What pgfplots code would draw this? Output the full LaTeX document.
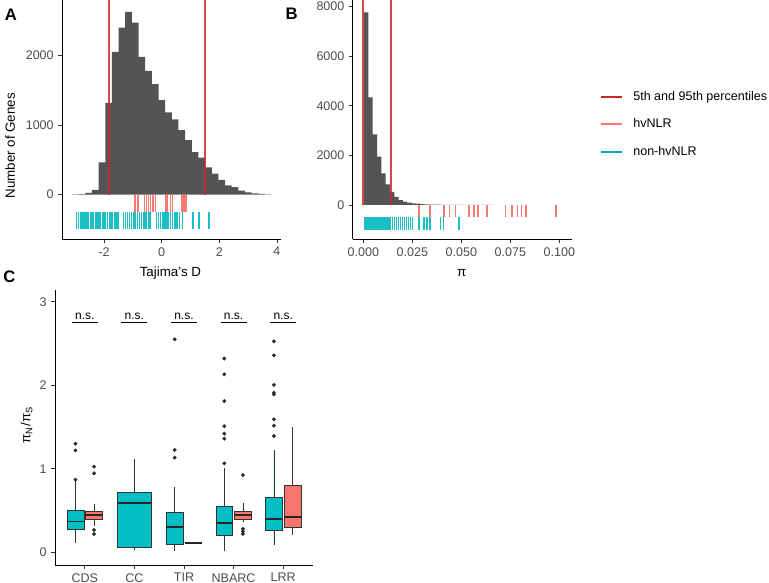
\documentclass[border=0pt]{standalone}
\usepackage{fontspec}
\setmainfont{Liberation Sans}
\usepackage{pgfplots}
\pgfplotsset{compat=1.18}
\usepgfplotslibrary{statistics}
\definecolor{barfill}{HTML}{545454}
\definecolor{pctcol}{RGB}{205,40,40}
\definecolor{hvcol}{HTML}{F8766D}
\definecolor{nonhvcol}{HTML}{00BFC4}
\definecolor{hvrug}{HTML}{F47A72}
\definecolor{nonhvrug}{HTML}{1CBEC6}
\definecolor{ticklab}{HTML}{4D4D4D}
\definecolor{boxline}{HTML}{333333}
\pgfplotsset{
 ggpanel/.style={
  scale only axis,
  axis x line*=bottom, axis y line*=left,
  axis line style={line width=0.7pt, black},
  tick align=outside,
  major tick length=2.7pt,
  tick style={line width=0.6pt, black!80},
  tick label style={font=\fontsize{9.4}{11}\selectfont, color=ticklab},
  label style={font=\fontsize{10}{12}\selectfont},
  /pgf/number format/assume math mode=true,
  /pgf/number format/1000 sep={},
  scaled ticks=false,
 },
 rugA/.style={only marks, mark=|, mark size=6.5pt},
 rugB/.style={only marks, mark=|, mark size=4.65pt},
 pctline/.style={draw=pctcol, line width=1.5pt, opacity=0.85},
 tealbox/.style={fill=nonhvcol, draw=boxline, line width=0.5pt, mark=*, mark size=1.2pt, mark options={fill=black!85, draw=none}},
 redbox/.style={fill=hvcol, draw=boxline, line width=0.5pt, mark=*, mark size=1.2pt, mark options={fill=black!85, draw=none}},
}
\begin{document}
\begin{tikzpicture}
\path[use as bounding box] (0,0) rectangle (576.75pt,437.25pt);

% ---------------- Panel A ----------------
\begin{axis}[ggpanel, at={(46.5pt,258pt)}, anchor=south west,
 width=164.25pt, height=179.25pt,
 xmin=-3.462, xmax=4.142, ymin=-636, ymax=2793,
 xtick={-2,0,2,4}, ytick={0,1000,2000},
 xlabel={Tajima's D}, ylabel={Number of Genes},
 xlabel style={at={(axis description cs:0.495,-0.158)}, anchor=base},
 ylabel style={at={(axis description cs:-0.215,0.39)}, anchor=base},
]
\addplot[ybar interval, fill=barfill, draw=none] coordinates {
(-3.115,3) (-2.884,8) (-2.653,25) (-2.422,70) (-2.191,464) (-1.960,1318)
(-1.729,2049) (-1.498,2398) (-1.267,2622) (-1.035,2470) (-0.804,1977)
(-0.573,1777) (-0.342,1586) (-0.111,1357) (0.120,1180) (0.351,1080)
(0.582,927) (0.813,784) (1.044,612) (1.275,530) (1.507,393) (1.738,301)
(1.969,211) (2.200,135) (2.431,110) (2.662,57) (2.893,34) (3.124,20)
(3.355,10) (3.586,3) (3.817,3)};
\addplot[pctline] coordinates {(-1.82,0) (-1.82,3000)};
\addplot[pctline] coordinates {(1.52,0) (1.52,3000)};
\addplot[rugA, mark options={draw=hvrug, line width=1.1pt}] coordinates {
(-0.92,-125) (-0.83,-125) (-0.60,-125) (-0.52,-125) (-0.45,-125) (-0.38,-125)
(-0.30,-125) (-0.22,-125) (0.15,-125) (0.21,-125) (0.31,-125) (0.37,-125)
(0.71,-125) (0.78,-125) (0.85,-125)};
\addplot[rugA, mark options={draw=nonhvrug, line width=1.1pt}] coordinates {
(-2.95,-375) (-2.88,-375) (-2.80,-375) (-2.74,-375) (-2.66,-375) (-2.60,-375)
(-2.55,-375) (-2.47,-375) (-2.42,-375) (-2.36,-375) (-2.30,-375) (-2.25,-375)
(-2.18,-375) (-2.12,-375) (-2.05,-375) (-2.00,-375) (-1.95,-375) (-1.88,-375)
(-1.82,-375) (-1.76,-375) (-1.70,-375) (-1.64,-375) (-1.58,-375) (-1.52,-375)
(-1.32,-375) (-1.26,-375) (-1.18,-375) (-1.12,-375) (-1.05,-375) (-0.98,-375)
(-0.92,-375) (-0.84,-375) (-0.78,-375) (-0.70,-375) (-0.64,-375) (-0.58,-375)
(-0.52,-375) (-0.46,-375) (-0.40,-375)
(-0.18,-375) (-0.12,-375) (-0.05,-375) (0.02,-375) (0.08,-375) (0.15,-375)
(0.22,-375) (0.30,-375) (0.38,-375) (0.46,-375) (0.53,-375) (0.62,-375)
(0.72,-375) (1.08,-375) (1.30,-375) (1.65,-375)};
\end{axis}

% ---------------- Panel B ----------------
\begin{axis}[ggpanel, at={(264.53pt,257.78pt)}, anchor=south west,
 width=164.25pt, height=179.48pt,
 xmin=-0.0054, xmax=0.1063, ymin=-1384, ymax=8269,
 xtick={0,0.025,0.05,0.075,0.1}, xticklabels={0.000,0.025,0.050,0.075,0.100},
 ytick={0,2000,4000,6000,8000},
 xlabel={π},
 xlabel style={at={(axis description cs:0.498,-0.156)}, anchor=base},
 legend style={at={(1.11,0.48)}, anchor=west, draw=none, fill=none,
   font=\fontsize{9.4}{11}\selectfont, row sep=8pt},
 legend cell align=left,
 legend image code/.code={\draw[line width=1.5pt] (0pt,0pt) -- (16pt,0pt); \path (22pt,0pt);},
]
\addplot[ybar interval, fill=barfill, draw=none, forget plot] coordinates {
(0.0004,7773) (0.0026,4344) (0.0048,2852) (0.0070,1950) (0.0092,1278)
(0.0114,835) (0.0136,524) (0.0158,323) (0.0180,200) (0.0202,135)
(0.0224,94) (0.0246,67) (0.0268,50) (0.0290,36) (0.0312,26) (0.0334,19)
(0.0356,14) (0.0378,10) (0.0400,7) (0.0422,5) (0.0444,4) (0.0466,3)
(0.0488,2) (0.0510,2) (0.0532,1) (0.0554,1) (0.0576,1) (0.0598,1)
(0.0620,1) (0.0642,1) (0.0664,1)};
\addplot[pctline, forget plot] coordinates {(0.0001,0) (0.0001,9000)};
\addplot[pctline, forget plot] coordinates {(0.0142,0) (0.0142,9000)};
\addplot[rugB, mark options={draw=hvrug, line width=1.1pt}, forget plot] coordinates {
(0.0284,-250) (0.0341,-250) (0.0412,-250) (0.0439,-250) (0.0470,-250)
(0.0538,-250) (0.0564,-250) (0.0584,-250) (0.0632,-250) (0.0724,-250)
(0.0759,-250) (0.0786,-250) (0.0808,-250) (0.0829,-250) (0.0982,-250)};
\addplot[rugB, mark options={draw=nonhvrug, line width=1.1pt}, forget plot] coordinates {
(0.0005,-750) (0.0010,-750) (0.0015,-750) (0.0020,-750) (0.0025,-750)
(0.0030,-750) (0.0035,-750) (0.0040,-750) (0.0045,-750) (0.0050,-750)
(0.0055,-750) (0.0060,-750) (0.0065,-750) (0.0070,-750) (0.0075,-750)
(0.0080,-750) (0.0085,-750) (0.0090,-750) (0.0095,-750) (0.0100,-750)
(0.0105,-750) (0.0110,-750) (0.0120,-750) (0.0130,-750) (0.0140,-750)
(0.0150,-750) (0.0160,-750) (0.0170,-750) (0.0180,-750) (0.0190,-750)
(0.0200,-750) (0.0210,-750) (0.0220,-750) (0.0230,-750) (0.0240,-750)
(0.0250,-750) (0.0285,-750) (0.0310,-750) (0.0325,-750) (0.0340,-750)
(0.0395,-750) (0.0408,-750) (0.0488,-750)};
\addlegendimage{draw=pctcol}
\addlegendentry{5th and 95th percentiles}
\addlegendimage{draw=hvcol}
\addlegendentry{hvNLR}
\addlegendimage{draw=nonhvcol!90!black}
\addlegendentry{non-hvNLR}
\end{axis}

% ---------------- Panel C ----------------
\begin{axis}[ggpanel, at={(41.25pt,13.5pt)}, anchor=south west,
 width=193.5pt, height=206.25pt,
 xmin=0.4, xmax=5.6, ymin=-0.152, ymax=3.14,
 xtick={1,2,3,4,5}, xticklabels={CDS,CC,TIR,NBARC,LRR},
 ytick={0,1,2,3},
 ylabel={π\textsubscript{N}/π\textsubscript{S}},
 ylabel style={at={(axis description cs:-0.095,0.509)}, anchor=base},
 boxplot/draw direction=y,
 boxplot/whisker extend=0,
 boxplot/every median/.style={line width=1.3pt, draw=black!85},
]
% CDS
\addplot[tealbox, boxplot prepared={lower whisker=0.11, lower quartile=0.275, median=0.37,
  upper quartile=0.506, upper whisker=0.85, draw position=0.8125, box extend=0.3375}]
  coordinates {(0,0.87) (0,1.22) (0,1.30)};
\addplot[redbox, boxplot prepared={lower whisker=0.31, lower quartile=0.40, median=0.447,
  upper quartile=0.49, upper whisker=0.578, draw position=1.1875, box extend=0.3375}]
  coordinates {(0,0.219) (0,0.267) (0,0.946) (0,1.025)};
% CC
\addplot[tealbox, boxplot prepared={lower whisker=0.028, lower quartile=0.06, median=0.586,
  upper quartile=0.722, upper whisker=1.12, draw position=2, box extend=0.675}]
  coordinates {};
% TIR
\addplot[tealbox, boxplot prepared={lower whisker=0.02, lower quartile=0.10, median=0.307,
  upper quartile=0.48, upper whisker=0.778, draw position=2.8125, box extend=0.3375}]
  coordinates {(0,1.133) (0,1.225) (0,2.55)};
\addplot[redbox, boxplot prepared={lower whisker=0.115, lower quartile=0.115, median=0.115,
  upper quartile=0.115, upper whisker=0.115, draw position=3.1875, box extend=0.3375}]
  coordinates {};
% NBARC
\addplot[tealbox, boxplot prepared={lower whisker=0.02, lower quartile=0.207, median=0.355,
  upper quartile=0.546, upper whisker=1.005, draw position=3.8125, box extend=0.3375}]
  coordinates {(0,1.065) (0,1.36) (0,1.42) (0,1.51) (0,1.81) (0,2.13) (0,2.32)};
\addplot[redbox, boxplot prepared={lower whisker=0.36, lower quartile=0.399, median=0.443,
  upper quartile=0.494, upper whisker=0.586, draw position=4.1875, box extend=0.3375}]
  coordinates {(0,0.22) (0,0.25) (0,0.28) (0,0.925)};
% LRR
\addplot[tealbox, boxplot prepared={lower whisker=0.087, lower quartile=0.259, median=0.399,
  upper quartile=0.654, upper whisker=1.225, draw position=4.8125, box extend=0.3375}]
  coordinates {(0,1.392) (0,1.516) (0,1.592) (0,1.89) (0,1.91) (0,2.003) (0,2.358) (0,2.526)};
\addplot[redbox, boxplot prepared={lower whisker=0.207, lower quartile=0.295, median=0.423,
  upper quartile=0.798, upper whisker=1.504, draw position=5.1875, box extend=0.3375}]
  coordinates {};
% significance annotations
\addplot[black, line width=1.1pt] coordinates {(0.74,2.749) (1.26,2.749)};
\addplot[black, line width=1.1pt] coordinates {(1.74,2.749) (2.26,2.749)};
\addplot[black, line width=1.1pt] coordinates {(2.74,2.749) (3.26,2.749)};
\addplot[black, line width=1.1pt] coordinates {(3.74,2.749) (4.26,2.749)};
\addplot[black, line width=1.1pt] coordinates {(4.74,2.749) (5.26,2.749)};
\node[font=\fontsize{9}{10}\selectfont, anchor=base] at (axis cs:1,2.79) {n.s.};
\node[font=\fontsize{9}{10}\selectfont, anchor=base] at (axis cs:2,2.79) {n.s.};
\node[font=\fontsize{9}{10}\selectfont, anchor=base] at (axis cs:3,2.79) {n.s.};
\node[font=\fontsize{9}{10}\selectfont, anchor=base] at (axis cs:4,2.79) {n.s.};
\node[font=\fontsize{9}{10}\selectfont, anchor=base] at (axis cs:5,2.79) {n.s.};
\end{axis}

% panel labels
\node[font=\bfseries\fontsize{12.5}{14}\selectfont] at (8.25pt,426.2pt) {A};
\node[font=\bfseries\fontsize{12.5}{14}\selectfont] at (218.8pt,426.9pt) {B};
\node[font=\bfseries\fontsize{12.5}{14}\selectfont] at (7.1pt,229.7pt) {C};
\end{tikzpicture}
\end{document}
